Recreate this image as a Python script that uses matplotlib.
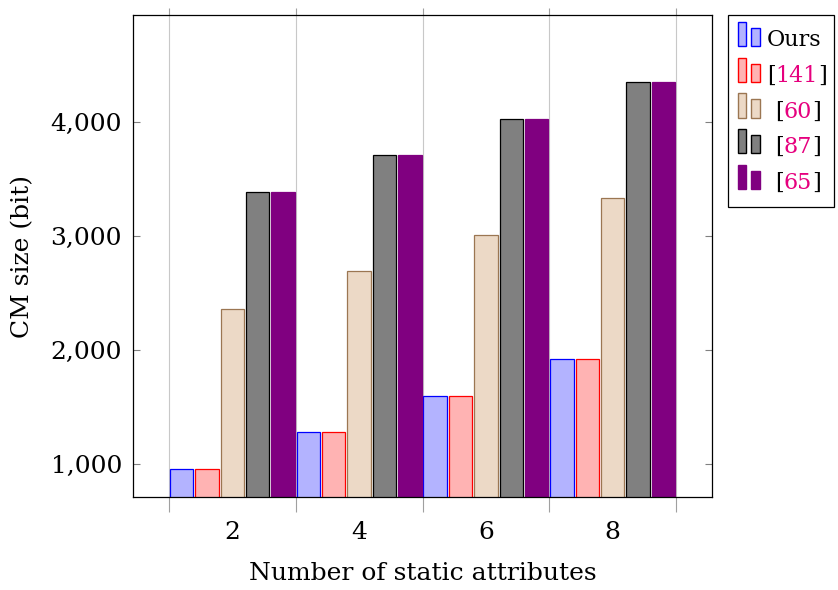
import matplotlib
matplotlib.use("Agg")
import matplotlib.pyplot as plt
from matplotlib.ticker import FuncFormatter, FixedLocator
from matplotlib.offsetbox import (AnchoredOffsetbox, VPacker, HPacker,
                                  TextArea, DrawingArea)
from matplotlib.patches import Rectangle

plt.rcParams['font.family'] = ['DejaVu Serif']

# Data
attributes = [2, 4, 6, 8]
series_names = ["Ours", "141", "60", "87", "65"]
ours = [960, 1280, 1600, 1920]
ref141 = [960, 1280, 1600, 1920]
ref60 = [2360, 2690, 3010, 3330]
ref87 = [3390, 3710, 4030, 4350]
ref65 = [3390, 3710, 4030, 4350]
values = [ours, ref141, ref60, ref87, ref65]

# Styling (fill, edge) per series
fills = ["#b3b3ff", "#ffb3b3", "#ecd9c6", "#808080", "#800080"]
edges = ["#0000ff", "#ff0000", "#9b7652", "#000000", "#800080"]
cite_color = "#e6007e"

FS = 18
LEG_FS = 16
slot = 0.4
bar_w = 0.37
offsets = [-2 * slot, -slot, 0.0, slot, 2 * slot]

fig = plt.figure(figsize=(8.38, 5.90), dpi=100)
ax = fig.add_axes([133 / 838, 1 - 497 / 590, (712 - 133) / 838, (497 - 15) / 590])

for vals, off, fc, ec in zip(values, offsets, fills, edges):
    ax.bar([a + off for a in attributes], vals, width=bar_w, bottom=0,
           color=fc, edgecolor=ec, linewidth=0.9, zorder=3)

ax.set_xlim(0.432, 9.568)
ax.set_ylim(710, 4940)

ax.set_xticks(attributes)
ax.set_xticklabels([str(a) for a in attributes], fontsize=FS)
ax.xaxis.set_minor_locator(FixedLocator([1, 3, 5, 7, 9]))
ax.tick_params(axis='x', which='major', length=0, pad=17.5)
ax.tick_params(axis='x', which='minor', bottom=True, top=True,
               direction='out', length=11, width=0.8, color='#a0a0a0')
for t in ax.xaxis.get_minor_ticks():
    t.tick2line.set_markersize(5)
ax.grid(axis='x', which='minor', color='#c8c8c8', linewidth=0.8, zorder=0)

ax.set_yticks([1000, 2000, 3000, 4000])
ax.yaxis.set_major_formatter(FuncFormatter(lambda v, p: f"{v:,.0f}"))
ax.tick_params(axis='y', which='major', left=True, right=True,
               direction='in', length=5, width=0.8, color='#808080',
               labelsize=FS, pad=8)

for s in ax.spines.values():
    s.set_linewidth(0.9)
    s.set_color('black')
    s.set_zorder(4)

ax.set_xlabel("Number of static attributes", fontsize=FS, labelpad=13)
ax.set_ylabel("CM size (bit)", fontsize=FS, labelpad=11.5)

# Legend built from packed boxes so the citation numbers can be coloured
row_h = 25.7      # points per legend row
row_desc = 8.3    # part of each row below the text baseline
rows = []
for i, (name, fc, ec) in enumerate(zip(series_names, fills, edges)):
    da = DrawingArea(18, row_h, 0, row_desc)
    da.add_artist(Rectangle((2.2, 0), 5.8, 17.3, facecolor=fc, edgecolor=ec, linewidth=1.0))
    da.add_artist(Rectangle((11.6, 0), 6.2, 13.0, facecolor=fc, edgecolor=ec, linewidth=1.0))
    tp = dict(fontsize=LEG_FS, color='black')
    if i == 0:
        parts = [TextArea(name, textprops=tp)]
    else:
        parts = [TextArea("[", textprops=tp),
                 TextArea(name, textprops=dict(fontsize=LEG_FS, color=cite_color)),
                 TextArea("]", textprops=tp)]
    if i >= 2:
        parts = [DrawingArea(6, 1, 0, 0)] + parts
    txt = HPacker(children=parts, align="baseline", pad=0, sep=0)
    rows.append(HPacker(children=[da, txt], align="baseline", pad=0, sep=5))

legend_box = VPacker(children=rows, align="left", pad=0, sep=0)
anch = AnchoredOffsetbox(loc='upper left', child=legend_box, pad=0.5,
                         borderpad=0, frameon=True,
                         bbox_to_anchor=(728 / 838, 1 - 15 / 590),
                         bbox_transform=fig.transFigure)
anch.patch.set_boxstyle("square", pad=0)
anch.patch.set_edgecolor('black')
anch.patch.set_linewidth(0.9)
fig.add_artist(anch)

fig.savefig("out.png", dpi=100)
